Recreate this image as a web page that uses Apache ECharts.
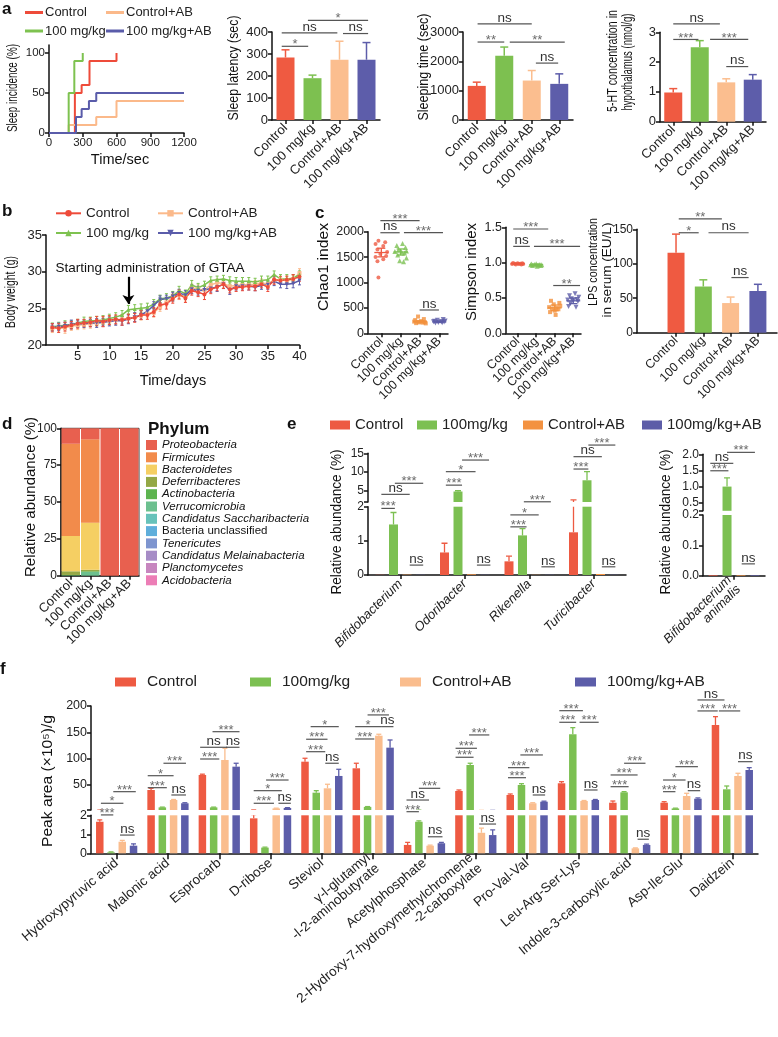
<!DOCTYPE html>
<html><head><meta charset="utf-8">
<script src="https://cdn.jsdelivr.net/npm/echarts@6.0.0/dist/echarts.min.js"></script>
<style>html,body{margin:0;padding:0;background:#fff}#c{width:778px;height:1037px}</style>
</head><body><div id="c"></div>
<script>
const F = "'Liberation Sans', Arial, Helvetica, sans-serif";

// ================= DATA =================
const groupNames = ['Control','100 mg/kg','Control+AB','100 mg/kg+AB'];
// a: sleep incidence (step curves) [time sec, incidence %]
const incControl   = [[0,0],[230,50],[290,60],[360,90],[600,100]];
const incControlAB = [[0,0],[175,10],[420,20],[600,40],[1200,40]];
const incDose      = [[0,0],[175,50],[225,90],[300,100]];
const incDoseAB    = [[0,0],[240,20],[290,30],[355,40],[420,50],[1200,50]];
// a: sleep latency, sleeping time, 5-HT  (mean, error)
const latMean = [284,190,274,274], latErr = [35,14,84,78];
const latSig  = [[-0.14,0.84,335,'*'],[-0.14,1.92,396,'ns'],[0.83,3.06,453,'*'],[2.13,3.06,393,'ns']];
const stMean  = [1163,2190,1345,1232], stErr = [127,297,342,341];
const stSig   = [[0.03,1.0,2658,'**'],[0.03,2.0,3274,'ns'],[1.2,3.2,2658,'**'],[2.15,2.96,1940,'ns']];
const htMean  = [0.98,2.5,1.32,1.41], htErr = [0.13,0.22,0.12,0.17];
const htSig   = [[0,0.95,2.76,'***'],[0,1.76,3.28,'ns'],[1.39,2.83,2.76,'***'],[2.0,2.83,1.85,'ns']];
// b: body weight
const days = [1,2,3,4,5,6,7,8,9,10,11,12,13,14,15,16,17,18,19,20,21,22,23,24,25,26,27,28,29,30,31,32,33,34,35,36,37,38,39,40];
const bwControl   = [22.4,22.3,22.5,22.7,22.9,23.0,23.1,23.3,23.2,23.4,23.5,23.4,23.6,23.7,24.1,24.1,24.5,25.5,25.6,26.3,26.9,26.4,27.4,27.2,26.9,27.6,27.9,28.3,27.6,27.8,27.9,28.0,28.0,28.3,27.9,28.9,28.8,28.9,29.0,29.3];
const bwDose      = [22.5,22.6,22.7,22.8,23.0,23.2,23.3,23.3,23.4,23.6,23.8,24.1,24.8,24.9,25.0,25.1,25.6,26.3,26.4,26.7,27.4,27.0,28.2,27.8,28.2,28.8,28.9,29.0,28.8,28.7,28.7,28.7,28.6,28.8,28.9,29.6,29.0,29.0,29.1,29.6];
const bwControlAB = [22.3,22.4,22.3,22.6,22.7,22.8,22.9,23.0,23.1,23.3,23.4,23.5,23.6,23.8,24.0,24.3,24.4,25.2,25.8,26.5,26.8,26.6,27.8,27.6,27.5,28.2,28.5,28.4,28.0,28.1,28.2,28.2,28.3,28.5,28.3,28.9,28.9,28.8,29.0,29.8];
const bwDoseAB    = [22.4,22.5,22.6,22.8,22.9,22.9,23.0,23.0,23.1,23.2,23.3,23.3,23.5,23.8,24.1,24.6,25.4,26.2,26.3,26.6,27.1,26.8,27.6,27.4,27.5,27.7,27.9,28.3,27.5,28.0,28.0,28.0,27.9,28.1,28.2,28.7,28.3,28.3,28.4,28.8];
const bwErrControl   = [0.5,0.6,0.6,0.5,0.6,0.5,0.6,0.6,0.7,0.6,0.6,0.7,0.6,0.6,0.6,0.6,0.6,0.6,0.7,0.6,0.6,0.6,0.6,0.6,0.7,0.6,0.5,0.6,0.5,0.5,0.5,0.5,0.6,0.5,0.6,0.6,0.5,0.5,0.6,0.6];
const bwErrDose      = [0.5,0.5,0.6,0.5,0.5,0.6,0.5,0.6,0.6,0.6,0.6,0.6,0.6,0.6,0.6,0.6,0.6,0.5,0.6,0.6,0.6,0.5,0.6,0.6,0.5,0.5,0.5,0.5,0.5,0.5,0.5,0.5,0.5,0.6,0.5,0.5,0.6,0.6,0.5,0.5];
const bwErrControlAB = [0.6,0.6,0.7,0.6,0.6,0.6,0.6,0.5,0.6,0.6,0.6,0.6,0.6,0.6,0.6,0.6,0.6,0.6,0.6,0.6,0.6,0.6,0.5,0.6,0.6,0.5,0.5,0.6,0.6,0.5,0.5,0.5,0.5,0.5,0.6,0.6,0.5,0.5,0.5,0.6];
const bwErrDoseAB    = [0.5,0.5,0.5,0.6,0.5,0.5,0.5,0.6,0.5,0.6,0.6,0.6,0.6,0.6,0.6,0.6,0.5,0.5,0.5,0.6,0.5,0.6,0.6,0.6,0.5,0.5,0.6,0.6,0.6,0.5,0.5,0.5,0.5,0.5,0.6,0.6,0.5,0.6,0.6,0.6];
const arrowDay = 13, arrowFrom = 29.3, arrowTo = 25.6;
// c: Chao1 (points: value, horizontal jitter in category units)
const chaoControl   = [1820,1790,1760,1720,1650,1600,1560,1520,1500,1460,1420,1100];
const chaoControlX  = [-0.15,0.2,-0.3,0.1,-0.2,0.3,-0.05,0.25,-0.3,0.1,-0.2,-0.15];
const chaoDose      = [1770,1730,1690,1650,1620,1610,1600,1580,1540,1480,1430,1410];
const chaoDoseX     = [0.1,-0.2,0.25,-0.1,0.3,-0.3,0.05,0.2,-0.15,0.3,-0.05,0.15];
const chaoControlAB = [330,280,260,240,230,220,215,210,200,195];
const chaoControlABX= [-0.1,0.2,-0.25,0.05,-0.3,0.25,-0.05,0.15,-0.2,0.3];
const chaoDoseAB    = [270,255,240,235,230,225,220,215,210,205];
const chaoDoseABX   = [0.2,-0.1,0.3,-0.25,0.1,-0.3,0.25,-0.05,0.15,-0.2];
const chaoMean = [1590,1600,228,225], chaoSem = [85,60,20,12];
const chaoSig  = [[-0.05,0.95,1980,'ns'],[-0.05,1.98,2217,'***'],[1.17,3.19,1980,'***'],[1.98,2.98,459,'ns']];
// c: Simpson
const simControl   = [0.995,0.99,0.99,0.985,0.985,0.98,0.98,0.98,0.975,0.975];
const simControlX  = [-0.25,0.0,0.25,-0.15,0.15,-0.3,0.05,0.3,-0.1,0.2];
const simDose      = [0.985,0.98,0.975,0.975,0.97,0.97,0.965,0.96,0.96,0.95];
const simDoseX     = [0.0,-0.25,0.2,-0.1,0.3,-0.3,0.1,-0.2,0.25,0.05];
const simControlAB = [0.46,0.43,0.41,0.39,0.37,0.36,0.35,0.34,0.32,0.30,0.26];
const simControlABX= [-0.2,0.25,-0.05,0.3,-0.3,0.1,-0.15,0.2,0.0,-0.25,0.05];
const simDoseAB    = [0.56,0.53,0.51,0.49,0.48,0.47,0.46,0.45,0.42,0.38,0.37];
const simDoseABX   = [0.1,-0.2,0.3,-0.1,0.2,-0.3,0.0,0.25,-0.15,-0.25,0.15];
const simMean = [0.985,0.97,0.36,0.46], simSem = [0.006,0.01,0.04,0.04];
const simSig  = [[-0.24,0.66,1.23,'ns'],[-0.24,1.65,1.476,'***'],[0.88,3.37,1.23,'***'],[1.92,3.37,0.676,'**']];
// c: LPS
const lpsMean = [116,67,43,60.5], lpsErr = [27,9.7,8.7,9.7];
const lpsSig  = [[0.1,0.83,145,'*'],[0.1,1.68,165,'**'],[1.19,2.66,145,'ns'],[2.03,2.66,80,'ns']];
// d: phylum composition (%)
const phyla = ['Proteobacteria','Firmicutes','Bacteroidetes','Deferribacteres','Actinobacteria','Verrucomicrobia','Candidatus Saccharibacteria','Bacteria unclassified','Tenericutes','Candidatus Melainabacteria','Planctomycetes','Acidobacteria'];
const phylumValues = [
  [10.5,7.5,100,100],
  [62.5,56.5,0,0],
  [24,32,0,0],
  [2.5,1.0,0,0],
  [0.3,0.5,0,0],
  [0.2,2.5,0,0],
  [0,0,0,0],[0,0,0,0],[0,0,0,0],[0,0,0,0],[0,0,0,0],[0,0,0,0]
];
// e: genus abundance (%)
const eCats = ['Bifidobacterium','Odoribacter','Rikenella','Turicibacter'];
const eLegend = ['Control','100mg/kg','Control+AB','100mg/kg+AB'];
const eMeans = [[0.005,0.66,0.40,1.25],[1.48,4.8,1.16,7.8],[0.01,0.02,0.005,0.03],[0.005,0.005,0.005,0.005]];
const eErrs  = [[0,0.27,0.15,1.3],[0.35,0.2,0.2,2.3],[0,0,0,0],[0,0,0,0]];
const eSigLow = [[0,0.1,1.1,1.95,'***'],[0,2.2,3.2,0.29,'ns'],[1,2.4,3.4,0.29,'ns'],[2,0.1,1.3,1.41,'***'],[2,0.1,2.2,1.76,'*'],[2,2.4,3.4,0.24,'ns'],[3,2.1,3.1,0.24,'ns']];
const eSigUp  = [[0,0.1,2.2,4.04,'ns'],[0,1.1,3.2,7.0,'***'],[1,0.1,1.3,6.5,'***'],[1,0.1,2.3,10.1,'*'],[1,1.3,3.3,13.2,'***'],[2,1.1,3.1,2.06,'***'],[3,0.0,1.1,10.8,'***'],[3,0.0,2.1,14.1,'ns'],[3,1.1,3.1,17.2,'***']];
const e2Cats = ['Bifidobacterium\nanimalis'];
const e2Means = [[0.002],[1.0],[0.002],[0.002]];
const e2Errs  = [[0],[0.27],[0],[0]];
const e2SigUp = [[0,-0.2,1.1,1.49,'***'],[0,-0.2,1.45,1.72,'ns'],[0,1.0,3.0,2.06,'***']];
const e2SigLow= [[0,2.05,3.0,0.039,'ns']];
// f: metabolites peak area (x10^5/g)
const fCats = ['Hydroxypyruvic acid','Malonic acid','Esprocarb','D-ribose','Steviol','γ-l-glutamyl\n-l-2-aminobutyrate','Acetylphosphate','2-Hydroxy-7-hydroxymethylchromene\n-2-carboxylate','Pro-Val-Val','Leu-Arg-Ser-Lys','Indole-3-carboxylic acid','Asp-Ile-Glu','Daidzein'];
const fControl   = [1.66,40.1,68.7,1.84,94,81.4,0.44,38.2,30.6,52.9,15.9,15.9,163.9];
const fControlErr= [0.1,3.2,1.5,0.2,6.5,9.6,0.14,1.9,1.9,3.0,3.2,1.9,15.8];
const fDose      = [0.05,7,7,0.3,35,8,1.66,87.7,49.6,146.2,35.7,5,41.4];
const fDoseErr   = [0.02,0.5,0.5,0.03,3.8,0.5,0.05,3.3,2.5,12.6,1.2,0.5,6.3];
const fControlAB = [0.61,21,97.2,5,43.3,143.5,0.4,1.08,14.8,19.1,0.26,28.7,66.8];
const fControlABErr=[0.07,1,22.3,0.5,7.7,2.7,0.03,0.24,1.0,1.0,0.02,5.1,5.1];
const fDoseAB    = [0.4,14.8,84.5,6,66.8,120.7,0.53,0.96,17.8,21,0.44,23.5,78.2];
const fDoseABErr = [0.1,1,6.5,0.5,12.7,14.6,0.04,0.27,1.0,1.0,0.04,1.5,4.4];
const fSigLow = [[0,0.1,1.2,2.02,'***'],[0,1.8,3.1,0.96,'ns'],[6,-0.1,1.0,2.19,'***'],[6,1.8,3.1,0.87,'ns'],[7,1.8,3.3,1.54,'ns'],[10,2.2,3.2,0.74,'ns']];
const fSigUp = [
 [0,0.1,2.1,14.8,'*'],[0,1.2,3.2,36.9,'***'],
 [1,-0.3,1.4,44.5,'***'],[1,-0.3,2.0,67.3,'*'],[1,1.1,3.1,91,'***'],[1,1.8,3.1,30.6,'ns'],
 [2,-0.2,1.5,99.1,'***'],[2,-0.2,2.2,121.4,'ns'],[2,2.1,3.3,121.4,'ns'],[2,0.9,3.3,151.1,'***'],
 [3,0.0,1.8,14.8,'***'],[3,0.0,2.5,38.8,'*'],[3,1.1,3.1,59.1,'***'],[3,2.2,3.3,14.8,'ns'],
 [4,0.1,1.8,113,'***'],[4,0.1,2.0,136.7,'***'],[4,0.5,3.0,160.7,'*'],[4,1.8,3.0,91,'ns'],
 [5,-0.1,1.6,137.2,'***'],[5,-0.1,2.2,160.7,'*'],[5,1.0,2.9,183,'***'],[5,2.2,3.3,160.7,'ns'],
 [6,-0.1,1.9,21,'ns'],[6,1.0,2.9,43.3,'***'],
 [7,-0.3,1.3,102.4,'***'],[7,-0.3,1.6,119.5,'***'],[7,0.9,2.7,144.9,'***'],
 [8,-0.2,1.4,63.5,'***'],[8,-0.2,1.7,82.6,'***'],[8,0.9,2.9,106.8,'***'],[8,2.0,3.1,30.6,'ns'],
 [9,-0.2,1.3,169,'***'],[9,-0.2,1.9,191.1,'***'],[9,1.6,3.3,169,'***'],[9,2.0,3.2,40.1,'ns'],
 [10,-0.2,1.4,46.4,'***'],[10,-0.2,2.2,68.7,'***'],[10,1.0,2.9,91,'***'],
 [11,-0.1,1.0,36.9,'***'],[11,-0.1,1.9,59.1,'*'],[11,1.0,3.0,84.5,'***'],[11,2.1,3.2,38.8,'ns'],
 [12,-1.6,0.2,190.6,'***'],[12,0.3,2.2,190.6,'***'],[12,-1.6,0.8,211.5,'ns'],[12,2.0,3.3,94,'ns']
];

// ================= STYLE =================
const colA  = ['#EF5A41','#7DC050','#FBBE8F','#5D5DAA'];
const colE  = ['#ED5A42','#7CC052','#F39241','#5D5DA8'];
const colF  = ['#EE5A42','#7CC052','#FABD8E','#5C5DA9'];
const colPhy = ['#E8604F','#F28B4B','#F5CF63','#94A845','#5DB44F','#6CC08F','#67C2BA','#5FAEDB','#7E95CF','#A68CC6','#C786BF','#EC7DB6'];

// ================= HELPERS =================
function merge(a,b){ const o=Object.assign({},a); for(const k in b){ const v=b[k]; if(v&&typeof v==='object'&&!Array.isArray(v)&&typeof v!=='function'&&o[k]&&typeof o[k]==='object'&&!Array.isArray(o[k])) o[k]=merge(o[k],v); else o[k]=v; } return o; }
const grids=[], xAxes=[], yAxes=[], series=[], legends=[], graphics=[];
const plain = v => String(Math.round(v*1000)/1000);
const AXL={show:true,onZero:false,lineStyle:{color:'#111',width:1.5}};
const AXT={show:true,length:4,lineStyle:{color:'#111',width:1.5}};
function xAx(o){ return merge({type:'category',axisLine:AXL,axisTick:merge(AXT,{alignWithLabel:true}),splitLine:{show:false},axisLabel:{color:'#222',fontSize:12.5,fontFamily:F,margin:5,interval:0}},o||{}); }
function yAx(o){ return merge({type:'value',axisLine:AXL,axisTick:AXT,splitLine:{show:false},axisLabel:{color:'#222',fontSize:12.5,fontFamily:F,margin:4,formatter:plain}},o||{}); }
function addGrid(rect,xa,ya){ const gi=grids.length; grids.push(rect); xAxes.push(merge(xa,{gridIndex:gi})); yAxes.push(merge(ya,{gridIndex:gi})); return gi; }

function errSeries(g, pts, color, off, cap, clip, lw, both){
  return {type:'custom',xAxisIndex:g,yAxisIndex:g,clip:!!clip,silent:true,z:4,encode:{x:0,y:1},data:pts,
    renderItem:function(p,api){
      const x=api.value(0),m=api.value(1),e=api.value(2);
      if(!(e>0)) return {type:'group',children:[]};
      const a=api.coord([x,both?m-e:m]), b=api.coord([x,m+e]);
      const cx=a[0]+off, c=Array.isArray(color)?color[p.dataIndex]:color;
      const st={stroke:c,lineWidth:lw||1.5};
      const ch=[{type:'line',shape:{x1:cx,y1:a[1],x2:cx,y2:b[1]},style:st},
                {type:'line',shape:{x1:cx-cap/2,y1:b[1],x2:cx+cap/2,y2:b[1]},style:st}];
      if(both) ch.push({type:'line',shape:{x1:cx-cap/2,y1:a[1],x2:cx+cap/2,y2:a[1]},style:st});
      return {type:'group',children:ch};
    }};
}
function sigSeries(g, items, xFn){
  return {type:'custom',xAxisIndex:g,yAxisIndex:g,clip:false,silent:true,z:6,encode:{x:0,y:1},
    data:items.map(d=>[0,d[d.length-2]]),
    renderItem:function(p,api){
      const d=items[p.dataIndex], yv=d[d.length-2], lab=d[d.length-1];
      const xs=xFn(api,d,yv), y=api.coord([0,yv])[1];
      const star=lab.indexOf('*')>=0;
      return {type:'group',children:[
        {type:'line',shape:{x1:xs[0],y1:y,x2:xs[1],y2:y},style:{stroke:'#555',lineWidth:1.2}},
        {type:'text',x:(xs[0]+xs[1])/2,y:y+(star?5:1),style:{text:lab,fill:star?'#6b6b6b':'#333',font:(star?'13px ':'13.5px ')+F,textAlign:'center',textVerticalAlign:'bottom',align:'center',verticalAlign:'bottom'}}]};
    }};
}
const xSimple=(api,d,yv)=>{ const b=api.coord([0,yv])[0], u=api.size([1,0])[0]; return [b+d[0]*u,b+d[1]*u]; };
const xGroup=sp=>(api,d,yv)=>{ const b=api.coord([d[0],yv])[0]; return [b+(d[1]-1.5)*sp,b+(d[2]-1.5)*sp]; };

function leg(name,left,top,o){ legends.push(merge({data:[name],left:left,top:top,padding:0,selectedMode:false,formatter:n=>n.split('#')[0],textStyle:{fontFamily:F,fontSize:13.5,color:'#222'}},o||{})); }
const mctx=document.createElement('canvas').getContext('2d');
function title(text,cx,cy,size,len,vertical,bold){
  const font=(bold?'bold ':'')+size+'px '+F; mctx.font=font; const w=mctx.measureText(text).width;
  const s=len?len/w:1;
  graphics.push({type:'text',x:cx,y:cy,rotation:vertical?Math.PI/2:0,scaleX:s,style:{text:text,font:font,fill:'#111',textAlign:'center',textVerticalAlign:'middle',align:'center',verticalAlign:'middle'}});
}
function letter(t,x,y){ graphics.push({type:'text',x:x,y:y,style:{text:t,font:'bold 17px '+F,fill:'#111',textVerticalAlign:'top',verticalAlign:'top'}}); }

function simpleBars(g, means, errs, sig, bw, valueX){
  series.push({type:'bar',xAxisIndex:g,yAxisIndex:g,barWidth:bw,silent:true,
    data:means.map((v,i)=>({value:valueX?[i,v]:v,itemStyle:{color:colA[i]}}))});
  series.push(errSeries(g,means.map((m,i)=>[i,m,errs[i]]),colA,0,8,false,1.5));
  series.push(sigSeries(g,sig,xSimple));
}

// ================= PANEL a =================
const gA1=addGrid({left:49,top:45,width:135,height:88},
  xAx({type:'value',min:0,max:1200,interval:300,axisTick:{alignWithLabel:false},axisLabel:{fontSize:11.5,margin:4,formatter:plain}}),
  yAx({min:0,max:110,axisLabel:{customValues:[0,50,100],fontSize:11.5},axisTick:{customValues:[0,50,100]}}));
[['Control#a',incControl,'#EE4B3A'],['Control+AB#a',incControlAB,'#FBB98A'],['100 mg/kg#a',incDose,'#7EC250'],['100 mg/kg+AB#a',incDoseAB,'#5A5CAA']]
.forEach(s=>series.push({type:'line',name:s[0],xAxisIndex:gA1,yAxisIndex:gA1,step:'end',data:s[1],symbol:'none',color:s[2],lineStyle:{width:2,color:s[2]},silent:true}));
const legA={icon:'rect',itemWidth:18,itemHeight:3,textStyle:{fontSize:13,padding:[0,0,0,-3]}};
leg('Control#a',25,6,legA);
leg('Control+AB#a',106,6,legA);
leg('100 mg/kg#a',25,24.5,legA);
leg('100 mg/kg+AB#a',106,24.5,legA);

const catA={data:groupNames,axisLabel:{rotate:45,fontSize:13,margin:6}};
const gA2=addGrid({left:272,top:32,width:108,height:88},xAx(catA),yAx({min:0,max:400,interval:100,axisLabel:{fontSize:13}}));
simpleBars(gA2,latMean,latErr,latSig,18);
const gA3=addGrid({left:463,top:32,width:110,height:88},xAx(catA),yAx({min:0,max:3000,interval:1000,axisLabel:{fontSize:13}}));
simpleBars(gA3,stMean,stErr,stSig,18);
const gA4=addGrid({left:660,top:32.3,width:106,height:89.4},xAx(catA),yAx({min:0,max:3,interval:1,axisLabel:{fontSize:13}}));
simpleBars(gA4,htMean,htErr,htSig,18);

// ================= PANEL b =================
const gB=addGrid({left:46,top:235,width:253.5,height:110},
  xAx({type:'value',min:0,max:40,axisTick:{alignWithLabel:false,customValues:[5,10,15,20,25,30,35,40]},axisLabel:{customValues:[5,10,15,20,25,30,35,40],fontSize:13,formatter:plain}}),
  yAx({min:20,max:35,interval:5,axisLabel:{fontSize:13}}));
const bSeries=[['Control+AB#b',bwControlAB,bwErrControlAB,'#FBB98A','rect',0],['100 mg/kg#b',bwDose,bwErrDose,'#7EC250','triangle',0],['100 mg/kg+AB#b',bwDoseAB,bwErrDoseAB,'#5A5CAA','triangle',180],['Control#b',bwControl,bwErrControl,'#EE4B3A','circle',0]];
bSeries.forEach(s=>{
  series.push(errSeries(gB,days.map((d,i)=>[d,s[1][i],s[2][i]]),s[3],0,3,false,1,true));
  const ser={type:'line',name:s[0],xAxisIndex:gB,yAxisIndex:gB,data:days.map((d,i)=>[d,s[1][i]]),symbol:s[4],symbolRotate:s[5],symbolSize:4,color:s[3],lineStyle:{width:1.5,color:s[3]},itemStyle:{color:s[3]},silent:true,z:5};
  if(s[0]==='Control#b') ser.markLine={silent:true,symbol:['none','arrow'],symbolSize:9,lineStyle:{color:'#000',width:2.2,type:'solid'},label:{show:false},data:[[{coord:[arrowDay,arrowFrom]},{coord:[arrowDay,arrowTo]}]]};
  series.push(ser);
});
leg('Control#b',55,206.3,{itemWidth:25,itemHeight:8});
leg('Control+AB#b',157,206.3,{itemWidth:25,itemHeight:8});
leg('100 mg/kg#b',55,226,{itemWidth:25,itemHeight:8});
leg('100 mg/kg+AB#b',157,226,{itemWidth:25,itemHeight:8});

// ================= PANEL c =================
const catValX=(min,max)=>xAx({type:'value',min:min,max:max,axisTick:{alignWithLabel:false,customValues:[0,1,2,3]},axisLabel:{customValues:[0,1,2,3],formatter:v=>groupNames[v],rotate:45,fontSize:12.5,margin:6}});
const gC1=addGrid({left:368,top:231.7,width:80,height:101.6},catValX(-0.69,3.45),yAx({min:0,max:2000,interval:500}));
const gC2=addGrid({left:506,top:227.3,width:75,height:106},catValX(-0.63,3.42),yAx({min:0,max:1.5,interval:0.5,axisLabel:{formatter:v=>v.toFixed(1)}}));
const gC3=addGrid({left:637,top:229.3,width:140,height:103.4},catValX(-1.43,3.7),yAx({min:0,max:150,interval:50,axisLabel:{fontSize:12}}));
const scatColors=['#EE5A42','#7CC052','#F2913D','#5D5DA8'];
const scatSym=[['circle',0,4],['triangle',0,5],['rect',0,4],['triangle',180,5]];
function dotPanel(g, groups, means, sems, sig){
  groups.forEach((gr,i)=>{
    series.push({type:'scatter',xAxisIndex:g,yAxisIndex:g,silent:true,symbol:scatSym[i][0],symbolRotate:scatSym[i][1],symbolSize:scatSym[i][2],itemStyle:{color:scatColors[i]},
      data:gr[0].map((v,k)=>[i+gr[1][k],v]),z:3});
  });
  series.push({type:'custom',xAxisIndex:g,yAxisIndex:g,silent:true,z:5,encode:{x:0,y:1},data:means.map((m,i)=>[i,m,sems[i]]),
    renderItem:function(p,api){
      const i=api.value(0),m=api.value(1),s=api.value(2);
      const c=api.coord([i,m]),t=api.coord([i,m+s]),b=api.coord([i,m-s]);
      const st={stroke:scatColors[p.dataIndex],lineWidth:1.3};
      return {type:'group',children:[
        {type:'line',shape:{x1:c[0]-7,y1:c[1],x2:c[0]+7,y2:c[1]},style:st},
        {type:'line',shape:{x1:c[0],y1:t[1],x2:c[0],y2:b[1]},style:st},
        {type:'line',shape:{x1:c[0]-4,y1:t[1],x2:c[0]+4,y2:t[1]},style:st},
        {type:'line',shape:{x1:c[0]-4,y1:b[1],x2:c[0]+4,y2:b[1]},style:st}]};
    }});
  series.push(sigSeries(g,sig,xSimple));
}
dotPanel(gC1,[[chaoControl,chaoControlX],[chaoDose,chaoDoseX],[chaoControlAB,chaoControlABX],[chaoDoseAB,chaoDoseABX]],chaoMean,chaoSem,chaoSig);
dotPanel(gC2,[[simControl,simControlX],[simDose,simDoseX],[simControlAB,simControlABX],[simDoseAB,simDoseABX]],simMean,simSem,simSig);
simpleBars(gC3,lpsMean,lpsErr,lpsSig,17,true);

// ================= PANEL d =================
const gD=addGrid({left:61,top:428.3,width:78,height:147.4,show:true,borderColor:'#333',borderWidth:1},
  xAx({data:groupNames,axisLabel:{rotate:45,fontSize:13,margin:6}}),
  yAx({min:0,max:100,interval:25,axisLabel:{fontSize:12}}));
for(let k=phyla.length-1;k>=0;k--){
  series.push({type:'bar',name:phyla[k]+'#d',xAxisIndex:gD,yAxisIndex:gD,stack:'phy',barCategoryGap:'5%',silent:true,
    data:phylumValues[k],itemStyle:{color:colPhy[k]}});
}
phyla.forEach((p,k)=>{
  leg(p+'#d',146,439+k*12.3,{icon:'rect',itemWidth:11,itemHeight:10,textStyle:{fontSize:11.5,fontStyle:p==='Bacteria unclassified'?'normal':'italic',color:'#111'}});
});
graphics.push({type:'text',x:148,y:421,style:{text:'Phylum',font:'bold 17px '+F,fill:'#111',textVerticalAlign:'top',verticalAlign:'top'}});

// ================= PANEL e =================
function brokenGroup(gLow,gUp,means,errs,cols,names,bw,gapPct,sigLow,sigUp,cap){
  const sp=bw*(1+gapPct/100);
  [gLow,gUp].forEach((g,gi)=>{
    means.forEach((m,s)=>{
      const ser={type:'bar',xAxisIndex:g,yAxisIndex:g,barWidth:bw,barGap:gapPct+'%',silent:true,data:m,itemStyle:{color:cols[s]}};
      if(gi===0) ser.name=names[s];
      series.push(ser);
      series.push(errSeries(g,m.map((v,i)=>[i,v,errs[s][i]]),cols[s],(s-1.5)*sp,cap,true,1.3));
    });
  });
  series.push(sigSeries(gLow,sigLow,xGroup(sp)));
  series.push(sigSeries(gUp,sigUp,xGroup(sp)));
}
const eNames=eLegend.map(n=>n+'#e');
const gE1L=addGrid({left:368,top:506.7,width:258,height:68.3},
  xAx({data:eCats,axisLabel:{rotate:45,fontSize:13,fontStyle:'italic',margin:7}}),
  yAx({min:0,max:2,interval:1,axisLabel:{fontSize:12}}));
const gE1U=addGrid({left:368,top:453.3,width:258,height:48.7},
  xAx({data:eCats,show:false}),
  yAx({min:2,max:15,axisLabel:{customValues:[5,10,15],fontSize:12},axisTick:{customValues:[2,5,10,15]}}));
brokenGroup(gE1L,gE1U,eMeans,eErrs,colE,eNames,9,50,eSigLow,eSigUp,6);
const gE2L=addGrid({left:703,top:515,width:62,height:60.7},
  xAx({data:e2Cats,axisLabel:{rotate:45,fontSize:13,fontStyle:'italic',margin:7}}),
  yAx({min:0,max:0.2,interval:0.1,axisLabel:{fontSize:12,formatter:v=>v.toFixed(1)}}));
const gE2U=addGrid({left:703,top:454.3,width:62,height:56.5},
  xAx({data:e2Cats,show:false}),
  yAx({min:0.25,max:2,axisLabel:{customValues:[0.5,1,1.5,2],fontSize:12,formatter:v=>v.toFixed(1)},axisTick:{customValues:[0.25,0.5,1,1.5,2]}}));
brokenGroup(gE2L,gE2U,e2Means,e2Errs,colE,eLegend.map(n=>n+'#e2'),9,55,e2SigLow,e2SigUp,6);
leg(eNames[0],330,417.5,{icon:'rect',itemWidth:20,itemHeight:9,textStyle:{fontSize:15}});
leg(eNames[1],417,417.5,{icon:'rect',itemWidth:20,itemHeight:9,textStyle:{fontSize:15}});
leg(eNames[2],523,417.5,{icon:'rect',itemWidth:20,itemHeight:9,textStyle:{fontSize:15}});
leg(eNames[3],642,417.5,{icon:'rect',itemWidth:20,itemHeight:9,textStyle:{fontSize:15}});

// ================= PANEL f =================
const fNames=eLegend.map(n=>n+'#f');
const gFL=addGrid({left:91,top:815.3,width:667,height:38},
  xAx({data:fCats,axisTick:{length:6},axisLabel:{rotate:40,fontSize:13.5,margin:8}}),
  yAx({min:0,max:2,interval:1,axisLabel:{fontSize:12.5}}));
const gFU=addGrid({left:91,top:706,width:667,height:104},
  xAx({data:fCats,show:false}),
  yAx({min:2,max:200,axisLabel:{customValues:[50,100,150,200],fontSize:12.5},axisTick:{customValues:[2,50,100,150,200]}}));
brokenGroup(gFL,gFU,[fControl,fDose,fControlAB,fDoseAB],[fControlErr,fDoseErr,fControlABErr,fDoseABErr],colF,fNames,7.5,50,fSigLow,fSigUp,5);
leg(fNames[0],115,674,{icon:'rect',itemWidth:21,itemHeight:9,textStyle:{fontSize:15.5,padding:[0,0,0,6]}});
leg(fNames[1],250,674,{icon:'rect',itemWidth:21,itemHeight:9,textStyle:{fontSize:15.5,padding:[0,0,0,6]}});
leg(fNames[2],400,674,{icon:'rect',itemWidth:21,itemHeight:9,textStyle:{fontSize:15.5,padding:[0,0,0,6]}});
leg(fNames[3],575,674,{icon:'rect',itemWidth:21,itemHeight:9,textStyle:{fontSize:15.5,padding:[0,0,0,6]}});

// ================= TEXT =================
letter('a',2,1); letter('b',2,203); letter('c',315,205); letter('d',2,416); letter('e',287,416); letter('f',0,661);
title('Sleep incidence (%)',13,88,15,88,true);
title('Time/sec',120,160,14.5,null,false);
title('Sleep latency (sec)',234,68,15,105,true);
title('Sleeping time (sec)',424,67,15,107,true);
title('5-HT concentration in',613,61,14,102,true);
title('hypothalamus (nmol/g)',628,62,14,97,true);
title('Body weight (g)',11,292,15,72,true);
title('Time/days',173,381,14.5,null,false);
title('Starting administration of GTAA',150,268,13.5,null,false);
title('Chao1 index',324,267,15,88,true);
title('Simpson index',472,272,15,98,true);
title('LPS concentration',593,262,13.5,88,true);
title('in serum (EU/L)',607,270,13.5,95,true);
title('Relative abundance (%)',31,497,15,160,true);
title('Relative abundance (%)',337,522,14,145,true);
title('Relative abundance (%)',666,522,14,145,true);
title('Peak area (×10⁵)/g',48,781,15,132,true);

const chart=echarts.init(document.getElementById('c'),null,{renderer:'canvas'});
chart.setOption({animation:false,backgroundColor:'#fff',textStyle:{fontFamily:F},grid:grids,xAxis:xAxes,yAxis:yAxes,series:series,legend:legends,graphic:{elements:graphics}});
</script></body></html>
